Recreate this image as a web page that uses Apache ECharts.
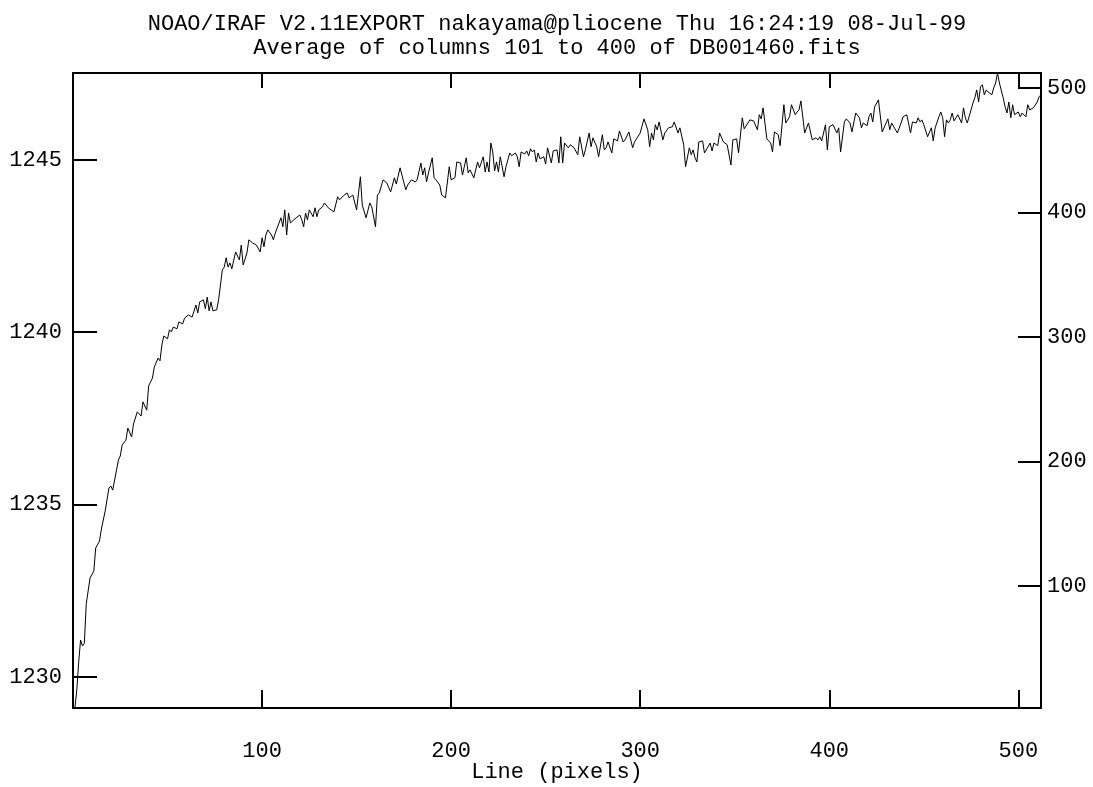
<!DOCTYPE html>
<html><head><meta charset="utf-8">
<script src="https://cdn.jsdelivr.net/npm/echarts@6/dist/echarts.min.js"></script>
<style>html,body{margin:0;padding:0;background:#fff}#c{width:1093px;height:787px}</style>
</head><body><div id="c"></div>
<script>
var titleLines = ["NOAO/IRAF V2.11EXPORT nakayama@pliocene Thu 16:24:19 08-Jul-99", "Average of columns 101 to 400 of DB001460.fits"];
var xLabel = "Line (pixels)";
var xTicks = [100, 200, 300, 400, 500];
var leftTicks = [1230, 1235, 1240, 1245];
var rightTicks = [100, 200, 300, 400, 500];
var lines = [1,2,3,4,5,6,7,9,11,12,14,15,17,19,20,21,23,24,25,26,28,29,31,32,34,36,37,39,40,42,43,45,46,47,48,50,51,52,53,55,56,58,59,60,61,63,65,66,67,69,70,71,72,73,74,76,77,79,80,81,82,83,84,86,88,89,90,92,93,95,96,97,99,100,101,102,103,105,106,107,108,110,111,112,113,114,115,116,118,120,121,122,123,124,125,127,128,129,130,132,133,135,138,140,141,143,144,145,146,148,150,152,153,155,157,158,160,161,162,164,166,168,170,171,173,174,176,177,179,181,182,184,185,186,187,188,190,191,192,194,195,197,199,200,202,203,205,206,208,209,210,212,214,215,217,218,219,220,221,222,223,224,225,226,228,229,231,232,234,235,236,237,239,240,241,242,243,244,245,246,247,249,250,251,252,253,254,256,257,258,259,260,262,263,265,267,268,270,271,273,274,275,277,278,280,281,282,283,285,286,288,289,291,292,294,296,297,300,301,302,304,305,306,307,308,309,310,312,313,315,317,318,319,320,321,323,324,326,327,328,329,330,331,333,334,335,337,338,339,341,342,344,346,347,348,349,351,352,354,355,357,358,360,362,363,364,365,367,369,370,371,373,374,376,377,379,380,382,383,384,385,387,388,389,390,391,393,394,395,396,398,399,400,402,403,404,405,406,408,409,410,411,412,414,416,417,418,420,421,422,423,424,426,428,429,431,432,433,434,436,438,439,441,442,443,444,446,447,448,449,450,451,452,454,455,456,457,458,459,460,461,462,463,464,465,466,468,470,471,472,473,475,476,477,478,479,480,481,482,483,484,486,487,488,489,490,492,493,494,495,496,497,498,500,501,502,504,505,506,507,508,510,511,512];
var values = [1229.10,1229.62,1230.43,1231.07,1230.90,1230.98,1232.12,1232.87,1233.07,1233.74,1233.94,1234.29,1234.81,1235.48,1235.54,1235.42,1236.00,1236.29,1236.41,1236.73,1236.87,1237.22,1236.96,1237.34,1237.69,1237.57,1237.98,1237.74,1238.44,1238.67,1238.99,1239.25,1239.17,1239.63,1239.89,1239.81,1240.07,1240.01,1240.15,1240.10,1240.30,1240.24,1240.41,1240.36,1240.50,1240.44,1240.79,1240.56,1240.88,1240.94,1240.68,1241.02,1240.62,1240.88,1240.62,1240.65,1240.94,1241.81,1241.89,1242.16,1241.89,1242.01,1241.84,1242.33,1242.10,1242.53,1241.95,1242.30,1242.68,1242.59,1242.62,1242.53,1242.33,1242.74,1242.48,1242.82,1242.97,1242.82,1242.68,1242.88,1242.91,1243.32,1243.06,1243.55,1242.82,1243.46,1243.17,1243.20,1243.32,1243.40,1243.26,1243.06,1243.46,1243.26,1243.55,1243.35,1243.61,1243.35,1243.55,1243.64,1243.75,1243.61,1243.49,1243.93,1243.84,1243.96,1243.93,1244.04,1243.90,1243.98,1243.55,1244.51,1243.69,1243.32,1243.75,1243.64,1243.06,1243.98,1244.04,1244.42,1244.33,1244.07,1244.48,1244.30,1244.77,1244.74,1244.13,1244.27,1244.42,1244.36,1244.42,1244.91,1244.56,1244.77,1244.36,1244.62,1245.06,1244.48,1244.42,1244.27,1243.98,1243.90,1244.80,1244.42,1244.48,1244.94,1244.91,1244.56,1245.06,1244.62,1244.71,1244.48,1244.94,1244.77,1245.09,1244.65,1244.94,1244.65,1245.49,1245.23,1244.68,1244.94,1244.65,1245.09,1244.51,1244.80,1245.20,1245.12,1245.20,1245.09,1244.80,1245.23,1245.17,1245.26,1245.12,1245.32,1245.23,1245.29,1244.94,1245.20,1245.03,1245.09,1244.88,1245.35,1245.35,1244.91,1245.26,1245.29,1244.91,1245.67,1244.91,1245.49,1245.35,1245.44,1245.35,1245.15,1245.67,1245.09,1245.29,1245.78,1245.38,1245.64,1245.38,1245.09,1245.73,1245.29,1245.35,1245.52,1245.20,1245.61,1245.55,1245.84,1245.52,1245.58,1245.81,1245.35,1245.52,1245.78,1245.73,1246.19,1245.87,1245.38,1245.78,1245.58,1246.02,1245.87,1246.10,1245.58,1245.78,1245.93,1245.96,1246.10,1246.07,1245.78,1245.93,1245.44,1244.80,1245.35,1245.15,1245.29,1245.06,1244.94,1245.52,1245.55,1245.20,1245.23,1245.49,1245.26,1245.49,1245.41,1245.78,1245.52,1245.44,1245.49,1244.85,1245.58,1245.61,1245.20,1246.22,1245.90,1246.07,1246.16,1246.13,1245.87,1246.31,1246.19,1246.51,1245.61,1245.49,1245.23,1245.81,1245.73,1245.41,1246.60,1246.07,1246.25,1246.60,1246.31,1246.39,1246.45,1246.71,1245.78,1245.73,1246.07,1246.10,1245.58,1245.64,1245.58,1245.67,1245.55,1246.02,1245.29,1245.96,1246.02,1246.07,1245.78,1245.93,1245.23,1246.10,1246.19,1246.16,1246.07,1245.81,1246.36,1246.22,1245.93,1246.07,1245.99,1246.25,1246.36,1246.10,1246.54,1246.74,1245.81,1245.81,1246.19,1245.87,1246.07,1246.07,1245.78,1246.07,1246.25,1246.31,1246.33,1245.78,1246.10,1246.07,1246.22,1246.10,1246.16,1246.02,1246.07,1245.67,1245.93,1245.55,1245.93,1245.96,1246.25,1246.39,1246.22,1245.67,1246.16,1246.07,1246.16,1246.36,1246.13,1246.31,1246.07,1246.51,1246.22,1246.07,1246.45,1246.65,1246.80,1247.03,1246.68,1247.12,1247.18,1246.89,1247.03,1246.97,1246.89,1247.09,1247.23,1247.52,1247.23,1246.80,1246.54,1246.36,1246.68,1246.22,1246.60,1246.31,1246.39,1246.25,1246.36,1246.25,1246.60,1246.45,1246.48,1246.51,1246.68,1246.83,1246.89];
var data = lines.map(function (l, i) { return [l, values[i]]; });

var FONT = "Liberation Mono";
var FS = 22;
var chart = echarts.init(document.getElementById('c'), null, {renderer: 'canvas'});
chart.setOption({
  animation: false,
  backgroundColor: '#ffffff',
  title: {
    text: titleLines.join('\n'),
    left: 557, top: 12, textAlign: 'center', padding: 0,
    textStyle: {fontFamily: FONT, fontSize: FS, fontWeight: 'normal', color: '#000', lineHeight: 24}
  },
  grid: {left: 73, top: 73, right: 52, bottom: 79, containLabel: false, outerBoundsMode: 'none', show: false},
  xAxis: [{
    type: 'value', position: 'bottom', min: 0, max: 512,
    name: xLabel, nameLocation: 'middle', nameGap: 53, nameMoveOverlap: false,
    nameTextStyle: {fontFamily: FONT, fontSize: FS, color: '#000'},
    axisLine: {show: true, onZero: false, lineStyle: {color: '#000', width: 2}},
    axisTick: {show: true, inside: true, length: 18, customValues: xTicks, lineStyle: {color: '#000', width: 2}},
    axisLabel: {show: true, customValues: xTicks, margin: 32, fontFamily: FONT, fontSize: FS, color: '#000',
      formatter: function (v) { return String(v); }},
    splitLine: {show: false}
  }, {
    type: 'value', position: 'top', min: 0, max: 512,
    axisLine: {show: true, onZero: false, lineStyle: {color: '#000', width: 2}},
    axisTick: {show: true, inside: true, length: 15, customValues: xTicks, lineStyle: {color: '#000', width: 2}},
    axisLabel: {show: false},
    splitLine: {show: false}
  }],
  yAxis: [{
    type: 'value', position: 'left', min: 1229.1, max: 1247.52,
    axisLine: {show: true, onZero: false, lineStyle: {color: '#000', width: 2}},
    axisTick: {show: true, inside: true, length: 24, customValues: leftTicks, lineStyle: {color: '#000', width: 2}},
    axisLabel: {show: true, customValues: leftTicks, margin: 11, fontFamily: FONT, fontSize: FS, color: '#000',
      formatter: function (v) { return String(v); }},
    splitLine: {show: false}
  }, {
    type: 'value', position: 'right', min: 2, max: 512,
    axisLine: {show: true, onZero: false, lineStyle: {color: '#000', width: 2}},
    axisTick: {show: true, inside: true, length: 23, customValues: rightTicks, lineStyle: {color: '#000', width: 2}},
    axisLabel: {show: true, customValues: rightTicks, margin: 6, fontFamily: FONT, fontSize: FS, color: '#000',
      formatter: function (v) { return String(v); }},
    splitLine: {show: false}
  }],
  series: [{
    type: 'line', xAxisIndex: 0, yAxisIndex: 0, data: data,
    showSymbol: false, symbol: 'none',
    lineStyle: {color: '#000', width: 1}
  }]
});
</script></body></html>
